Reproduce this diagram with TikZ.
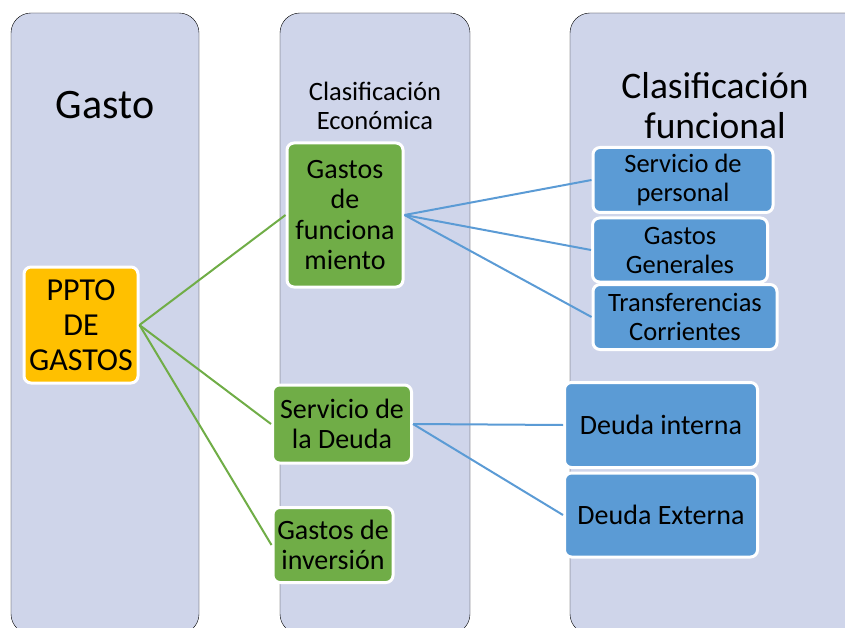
\documentclass[tikz,border=0pt]{standalone}
\usepackage{fontspec}
\setmainfont{Carlito}
\usetikzlibrary{positioning,calc}

\definecolor{colbg}{HTML}{CFD5EA}
\definecolor{boxgreen}{HTML}{70AD47}
\definecolor{boxorange}{HTML}{FFC000}
\definecolor{boxblue}{HTML}{5B9BD5}

\tikzset{
  column/.style={fill=colbg, rounded corners=20pt},
  box/.style={draw=white, line width=3pt, rounded corners=7pt, align=center, inner sep=1pt},
  orangebox/.style={box, fill=boxorange, font=\fontsize{32}{35}\selectfont},
  greenbox/.style={box, fill=boxgreen, font=\fontsize{28}{30.5}\selectfont},
  bluebox/.style={box, fill=boxblue, font=\fontsize{26.5}{29}\selectfont},
  greenline/.style={draw=boxgreen, line width=2pt},
  blueline/.style={draw=boxblue, line width=2pt}
}

\begin{document}
\begin{tikzpicture}[x=1pt,y=-1pt]
    \useasboundingbox (0,0) rectangle (845,628);
    \clip (0,0) rectangle (845,628);

    % columns
    \draw[column] (11,13) rectangle (199,634);
    \draw[column] (280,13) rectangle (470,634);
    \draw[column] (570,13) rectangle (890,634);

    % column titles
    \node[font=\fontsize{42}{48}\selectfont] (tgasto) at (105,105) {Gasto};
    \node[font=\fontsize{26.5}{29}\selectfont, align=center] (teco) at (375,106) {Clasificación\\Económica};
    \node[font=\fontsize{37.5}{40}\selectfont, align=center] (tfun) at (715,106) {Clasificación\\funcional};

    % boxes
    \node[orangebox, minimum width=114pt, minimum height=116pt] (ppto) at (81,325) {PPTO\\DE\\GASTOS};

    \node[greenbox, minimum width=116pt, minimum height=144pt] (func) at (345,215) {Gastos\\de\\funciona\\miento};
    \node[greenbox, minimum width=139pt, minimum height=78pt] (deuda) at (342,424) {Servicio de\\la Deuda};
    \node[greenbox, minimum width=120pt, minimum height=75pt] (inv) at (333,545) {Gastos de\\inversión};

    \node[bluebox, minimum width=180pt, minimum height=65pt] (pers) at (683,180) {Servicio de\\personal};
    \node[bluebox, minimum width=175pt, minimum height=64pt] (gen) at (680,250) {Gastos\\Generales};
    \node[bluebox, minimum width=184pt, minimum height=65pt] (trans) at (685,317) {Transferencias\\Corrientes};

    \node[bluebox, font=\fontsize{28}{32}\selectfont, minimum width=193pt, minimum height=85pt] (dint) at (661,425) {Deuda interna};
    \node[bluebox, font=\fontsize{28}{32}\selectfont, minimum width=193pt, minimum height=84pt] (dext) at (661,515) {Deuda Externa};

    % connectors
    \draw[greenline] (ppto.east) -- (func.west);
    \draw[greenline] (ppto.east) -- (deuda.west);
    \draw[greenline] (ppto.east) -- (inv.west);

    \draw[blueline] (func.east) -- (pers.west);
    \draw[blueline] (func.east) -- (gen.west);
    \draw[blueline] (func.east) -- (trans.west);

    \draw[blueline] (deuda.east) -- (dint.west);
    \draw[blueline] (deuda.east) -- (dext.west);
\end{tikzpicture}
\end{document}
